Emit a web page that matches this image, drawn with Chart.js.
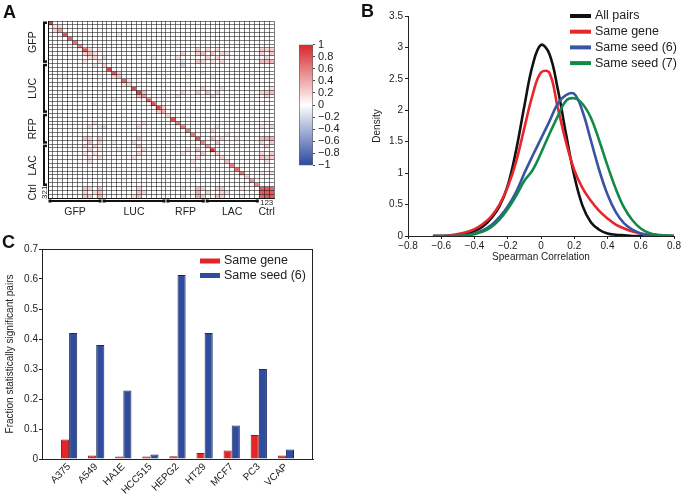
<!DOCTYPE html>
<html>
<head>
<meta charset="utf-8">
<script src="https://cdn.jsdelivr.net/npm/chart.js@4.4.1/dist/chart.umd.min.js"></script>
<style>
  body { margin: 0; background: #fff; }
  #page { position: relative; width: 683px; height: 496px; overflow: hidden; font-family: Arial, "Liberation Sans", sans-serif; }
  canvas { position: absolute; }
  .panel { position: absolute; font-weight: bold; font-size: 18px; color: #111; line-height: 1; }
</style>
</head>
<body>
<div id="page">
  <canvas id="heat" width="340" height="232" style="left:0;top:0"></canvas>
  <canvas id="cbar" width="70" height="140" style="left:290px;top:35px"></canvas>
  <canvas id="density" width="343" height="268" style="left:340px;top:0"></canvas>
  <canvas id="bars" width="340" height="264" style="left:0;top:232px"></canvas>
  <div class="panel" style="left:3px;top:3px">A</div>
  <div class="panel" style="left:361px;top:2px">B</div>
  <div class="panel" style="left:2px;top:233px">C</div>
</div>
<script>
"use strict";

// panel A: correlation matrix (symmetric), groups along both axes
const groupNames = ["GFP", "LUC", "RFP", "LAC", "Ctrl"];
const groupSizes = [11, 13, 8, 11, 3];
const diagValues = [
  0.85, 0.15, 0.45, 0.8, 0.7, 0.65, 0.55, 0.75, 0.3, 0.2, 0.15,
  0.2, 0.85, 0.75, 0.3, 0.7, 0.2, 0.8, 0.85, 0.45, 0.7, 0.8, 0.85, 0.35,
  0.2, 0.8, 0.55, 0.6, 0.6, 0.6, 0.75, 0.55,
  0.45, 0.95, 0.2, 0.2, 0.3, 0.6, 0.65, 0.6, 0.25, 0.5, 0.55,
  0.75, 0.75, 0.75
];
// [row, col, value], mirrored
const offDiagCells = [
  [2, 1, 0.2], [8, 7, 0.2], [9, 8, 0.15], [10, 7, 0.15],
  [14, 13, 0.2], [19, 18, 0.3], [23, 22, 0.2], [16, 15, 0.15],
  [14, 3, 0.1], [18, 6, 0.12], [21, 9, 0.12],
  [11, 9, -0.15], [27, 11, -0.2], [27, 10, -0.15], [20, 13, -0.12],
  [26, 9, 0.15], [27, 8, 0.2], [30, 7, 0.25], [30, 8, 0.2], [30, 10, 0.25], [31, 8, 0.3],
  [31, 10, 0.2], [32, 7, 0.2], [32, 9, 0.2], [33, 8, 0.25], [33, 10, 0.15], [34, 7, 0.15],
  [34, 9, 0.15], [35, 8, 0.2], [35, 10, 0.2], [36, 8, 0.15],
  [26, 19, 0.15], [27, 18, 0.2], [30, 18, 0.25], [31, 17, 0.2], [32, 18, 0.3], [33, 19, 0.2],
  [34, 18, 0.2], [35, 17, 0.15], [31, 13, 0.12], [33, 14, 0.12],
  [33, 28, 0.2], [33, 30, 0.3], [34, 27, 0.15], [34, 31, 0.25], [35, 30, 0.2], [36, 29, 0.15], [38, 30, 0.12],
  [43, 7, 0.25], [43, 8, 0.2], [43, 10, 0.3], [43, 18, 0.2], [43, 27, 0.15], [43, 30, 0.3],
  [43, 31, 0.2], [43, 34, 0.2], [43, 35, 0.25], [43, 39, 0.1],
  [44, 7, 0.2], [44, 9, 0.15], [44, 10, 0.3], [44, 18, 0.25], [44, 19, 0.2], [44, 30, 0.35],
  [44, 32, 0.2], [44, 35, 0.2], [44, 36, 0.15],
  [45, 7, 0.25], [45, 8, 0.25], [45, 10, 0.35], [45, 17, 0.15], [45, 18, 0.3], [45, 27, 0.2],
  [45, 30, 0.35], [45, 31, 0.25], [45, 34, 0.25], [45, 35, 0.2], [45, 39, 0.15],
  [44, 43, 0.75], [45, 43, 0.7], [45, 44, 0.75]
];

// panel B: density of Spearman correlation
const corrX = [-0.65, -0.6, -0.55, -0.5, -0.45, -0.4, -0.35, -0.3, -0.25, -0.2, -0.15, -0.1, -0.05, 0,
  0.05, 0.1, 0.15, 0.2, 0.25, 0.3, 0.35, 0.4, 0.45, 0.5, 0.55, 0.6, 0.65, 0.7, 0.75, 0.8];
const allPairs = [0, 0, 0, 0.01, 0.03, 0.08, 0.15, 0.28, 0.47, 0.8, 1.36, 2.07, 2.72, 3.04,
  2.9, 2.35, 1.63, 0.96, 0.48, 0.22, 0.1, 0.04, 0.02, 0.01, 0, 0, 0, 0, 0, 0];
const sameGene = [0, 0, 0.01, 0.03, 0.06, 0.11, 0.19, 0.31, 0.5, 0.78, 1.18, 1.72, 2.25, 2.6,
  2.6, 2.05, 1.5, 1.05, 0.76, 0.56, 0.4, 0.28, 0.18, 0.12, 0.07, 0.04, 0.02, 0.01, 0, 0];
const sameSeed6 = [0, 0, 0, 0, 0.01, 0.04, 0.09, 0.17, 0.3, 0.47, 0.7, 1.0, 1.28, 1.55,
  1.82, 2.1, 2.24, 2.26, 1.98, 1.52, 1.05, 0.66, 0.38, 0.2, 0.1, 0.04, 0.01, 0, 0, 0];
const sameSeed7 = [0, 0, 0, 0, 0.01, 0.03, 0.07, 0.14, 0.26, 0.43, 0.64, 0.88, 1.05, 1.32,
  1.62, 1.9, 2.15, 2.19, 2.1, 1.88, 1.52, 1.12, 0.75, 0.45, 0.25, 0.12, 0.05, 0.02, 0.01, 0];

// panel C: fraction of significant pairs per cell line
const cellLines = ["A375", "A549", "HA1E", "HCC515", "HEPG2", "HT29", "MCF7", "PC3", "VCAP"];
const fracSameGene = [0.065, 0.012, 0.008, 0.008, 0.009, 0.02, 0.028, 0.08, 0.012];
const fracSameSeed6 = [0.42, 0.38, 0.228, 0.015, 0.613, 0.42, 0.112, 0.3, 0.032];

const FONT = 'Arial, "Liberation Sans", sans-serif';
Chart.defaults.font.family = FONT;
Chart.defaults.color = "#222";
Chart.defaults.animation = false;
Chart.defaults.events = [];
Chart.defaults.plugins.legend.display = false;
Chart.defaults.plugins.tooltip.enabled = false;

const minus = (v) => String(Math.round(v * 10) / 10).replace("-", "\u2212");

function corrColor(v) {
  const t = Math.min(1, Math.abs(v));
  const end = v >= 0 ? [214, 38, 42] : [42, 72, 160];
  const mix = (i) => Math.round(255 + (end[i] - 255) * t);
  return `rgb(${mix(0)},${mix(1)},${mix(2)})`;
}

// ---------- A: heatmap ----------
const nCells = diagValues.length;
const matrix = diagValues.map((d, r) => {
  const row = new Array(nCells).fill(0);
  row[r] = d;
  return row;
});
offDiagCells.forEach(([r, c, v]) => {
  matrix[r][c] = v;
  matrix[c][r] = v;
});

const groupLabels = {
  id: "groupLabels",
  afterDraw(chart) {
    const { ctx, chartArea } = chart;
    const xs = chart.scales.x, ys = chart.scales.y;
    const half = (xs.getPixelForValue(1) - xs.getPixelForValue(0)) / 2;
    ctx.save();
    ctx.fillStyle = "#222";
    ctx.strokeStyle = "#111";
    ctx.textAlign = "center";
    ctx.textBaseline = "middle";
    let start = 0;
    groupNames.forEach((name, g) => {
      const end = start + groupSizes[g];
      const y0 = ys.getPixelForValue(start), y1 = ys.getPixelForValue(end);
      const x0 = xs.getPixelForValue(start) - half, x1 = xs.getPixelForValue(end - 1) + half;
      const bx = chartArea.left - 4, by = chartArea.bottom + 3;
      if (name === "Ctrl") {
        ctx.font = "8px " + FONT;
        ctx.fillText("123", (x0 + x1) / 2, by + 2);
        ctx.save();
        ctx.translate(bx + 1, (y0 + y1) / 2);
        ctx.rotate(-Math.PI / 2);
        ctx.fillText("321", 0, 0);
        ctx.restore();
      } else {
        ctx.lineWidth = 2;
        ctx.beginPath();
        ctx.moveTo(bx, y0 + 1); ctx.lineTo(bx, y1 - 1);
        ctx.moveTo(x0 + 1, by); ctx.lineTo(x1 - 1, by);
        ctx.stroke();
        ctx.fillStyle = "#111";
        ctx.fillRect(bx - 1, y0 + 0.5, 4, 2.5);
        ctx.fillRect(bx - 1, y1 - 3, 4, 2.5);
        ctx.fillRect(x0 + 0.5, by - 1.5, 3, 3);
        ctx.fillRect(x1 - 3.5, by - 1.5, 3, 3);
        ctx.fillStyle = "#222";
      }
      ctx.font = "10.5px " + FONT;
      ctx.fillText(name, (x0 + x1) / 2, chartArea.bottom + 14);
      ctx.save();
      ctx.translate(chartArea.left - 15, (y0 + y1) / 2);
      ctx.rotate(-Math.PI / 2);
      ctx.fillText(name, 0, 0);
      ctx.restore();
      start = end;
    });
    ctx.restore();
  }
};

new Chart(document.getElementById("heat"), {
  type: "bar",
  data: {
    labels: matrix.map((_, i) => String(i)),
    datasets: matrix.map((row, r) => ({
      data: row.map(() => [r, r + 1]),
      backgroundColor: row.map(corrColor),
      borderWidth: 0,
      grouped: false,
      categoryPercentage: 1,
      barPercentage: 1
    }))
  },
  options: {
    responsive: false,
    layout: { padding: { left: 48, top: 21, right: 66, bottom: 34 } },
    scales: {
      x: {
        ticks: { display: false, autoSkip: false },
        grid: { z: 1, offset: true, color: "rgba(20,20,20,0.7)", lineWidth: 0.8, drawTicks: false },
        border: { z: 2, color: "#111" },
        afterFit: (s) => { s.height = 0; }
      },
      y: {
        min: 0, max: nCells, reverse: true,
        ticks: { display: false, stepSize: 1, maxTicksLimit: 100 },
        grid: { z: 1, color: "rgba(20,20,20,0.7)", lineWidth: 0.8, drawTicks: false },
        border: { z: 2, color: "#111" },
        afterFit: (s) => { s.width = 0; }
      }
    }
  },
  plugins: [groupLabels]
});

// ---------- A: colorbar ----------
new Chart(document.getElementById("cbar"), {
  type: "bar",
  data: {
    labels: [""],
    datasets: [{
      data: [[-1, 1]],
      backgroundColor(context) {
        const { ctx, chartArea } = context.chart;
        if (!chartArea) return "#fff";
        const g = ctx.createLinearGradient(0, chartArea.top, 0, chartArea.bottom);
        g.addColorStop(0, corrColor(1));
        g.addColorStop(0.5, corrColor(0));
        g.addColorStop(1, corrColor(-1));
        return g;
      },
      borderColor: "#666",
      borderWidth: 1,
      borderSkipped: false,
      categoryPercentage: 1,
      barPercentage: 1
    }]
  },
  options: {
    responsive: false,
    layout: { padding: { left: 9, top: 8, right: 0, bottom: 9 } },
    scales: {
      x: { display: false },
      y: {
        position: "right",
        min: -1, max: 1,
        ticks: { stepSize: 0.2, autoSkip: false, font: { size: 11 }, padding: 3, callback: minus },
        grid: { drawOnChartArea: false, tickLength: 2, color: "#444" },
        border: { display: false },
        afterFit: (s) => { s.width = 47; }
      }
    }
  }
});

// ---------- shared legend ----------
const lineLegend = {
  id: "lineLegend",
  afterDraw(chart, args, opts) {
    const { ctx } = chart;
    ctx.save();
    ctx.font = opts.font;
    ctx.textBaseline = "middle";
    chart.data.datasets.forEach((ds, i) => {
      const y = opts.y + i * opts.step;
      ctx.fillStyle = ds[opts.colorKey];
      ctx.fillRect(opts.x, y - opts.thick / 2, opts.len, opts.thick);
      ctx.fillStyle = "#222";
      ctx.fillText(ds.label, opts.x + opts.len + opts.gap, y);
    });
    ctx.restore();
  }
};

// ---------- B: density lines ----------
const toPoints = (ys) => corrX.map((x, i) => ({ x, y: ys[i] }));
const lineStyle = { borderWidth: 2.6, pointRadius: 0, tension: 0.4, fill: false };

new Chart(document.getElementById("density"), {
  type: "line",
  data: {
    datasets: [
      { label: "All pairs", data: toPoints(allPairs), borderColor: "#111", order: 3, ...lineStyle },
      { label: "Same gene", data: toPoints(sameGene), borderColor: "#e8262c", order: 2, ...lineStyle },
      { label: "Same seed (6)", data: toPoints(sameSeed6), borderColor: "#3a54a4", order: 1, ...lineStyle },
      { label: "Same seed (7)", data: toPoints(sameSeed7), borderColor: "#128a47", order: 0, ...lineStyle }
    ]
  },
  options: {
    responsive: false,
    layout: { padding: { left: 27, top: 16, right: 9, bottom: 0 } },
    scales: {
      x: {
        type: "linear",
        min: -0.8, max: 0.8,
        ticks: { stepSize: 0.2, font: { size: 10 }, padding: 1, callback: minus, maxRotation: 0 },
        grid: { drawOnChartArea: false, tickLength: 3, color: "#222" },
        border: { color: "#222" },
        title: { display: true, text: "Spearman Correlation", font: { size: 10 }, padding: { top: 2, bottom: 5 } },
        afterFit: (s) => { s.height = 32; }
      },
      y: {
        min: 0, max: 3.5,
        ticks: { stepSize: 0.5, font: { size: 10 }, padding: 2, callback: minus },
        grid: { drawOnChartArea: false, tickLength: 3, color: "#222" },
        border: { color: "#222" },
        title: { display: true, text: "Density", font: { size: 10 }, padding: { top: 4, bottom: 4 } },
        afterFit: (s) => { s.width = 41; }
      }
    },
    plugins: {
      lineLegend: { x: 230, y: 16, step: 15.7, len: 21, thick: 4, gap: 4, font: "12.5px " + FONT, colorKey: "borderColor" }
    }
  },
  plugins: [lineLegend]
});

// ---------- C: grouped bars ----------
const boxBorder = {
  id: "boxBorder",
  afterDatasetsDraw(chart) {
    const { ctx, chartArea: a } = chart;
    ctx.save();
    ctx.strokeStyle = "#222";
    ctx.lineWidth = 1;
    ctx.strokeRect(Math.round(a.left) + 0.5, Math.round(a.top) + 0.5, Math.round(a.right - a.left) - 1, Math.round(a.bottom - a.top));
    ctx.restore();
  }
};

new Chart(document.getElementById("bars"), {
  type: "bar",
  data: {
    datasets: [
      {
        label: "Same gene",
        data: fracSameGene.map((v, i) => ({ x: i + 1, y: v })),
        backgroundColor: "#e5242a", borderColor: "#8a1c1c", borderWidth: 1,
        categoryPercentage: 0.6, barPercentage: 1
      },
      {
        label: "Same seed (6)",
        data: fracSameSeed6.map((v, i) => ({ x: i + 1, y: v })),
        backgroundColor: "#2f4c9d", borderColor: "#1b2a5a", borderWidth: 1,
        categoryPercentage: 0.6, barPercentage: 1
      }
    ]
  },
  options: {
    responsive: false,
    layout: { padding: { left: 0, top: 17, right: 27, bottom: 0 } },
    scales: {
      x: {
        type: "linear",
        offset: false,
        min: 0, max: cellLines.length + 1,
        ticks: {
          stepSize: 1, autoSkip: false, maxRotation: 45, minRotation: 45, font: { size: 10 }, padding: 2,
          callback: (v) => cellLines[v - 1] || ""
        },
        grid: { display: false, drawTicks: false },
        border: { color: "#222" },
        afterFit: (s) => { s.height = 37; }
      },
      y: {
        min: 0, max: 0.7,
        ticks: { stepSize: 0.1, font: { size: 10 }, padding: 1, callback: minus },
        grid: { drawOnChartArea: false, tickLength: 3, color: "#222" },
        border: { color: "#222" },
        title: { display: true, text: "Fraction statistically significant pairs", font: { size: 10 }, padding: { top: 4, bottom: 4 } },
        afterFit: (s) => { s.width = 42; }
      }
    },
    plugins: {
      lineLegend: { x: 200, y: 29, step: 14.5, len: 20, thick: 5, gap: 4, font: "12.5px " + FONT, colorKey: "backgroundColor" }
    }
  },
  plugins: [lineLegend, boxBorder]
});
</script>
</body>
</html>
